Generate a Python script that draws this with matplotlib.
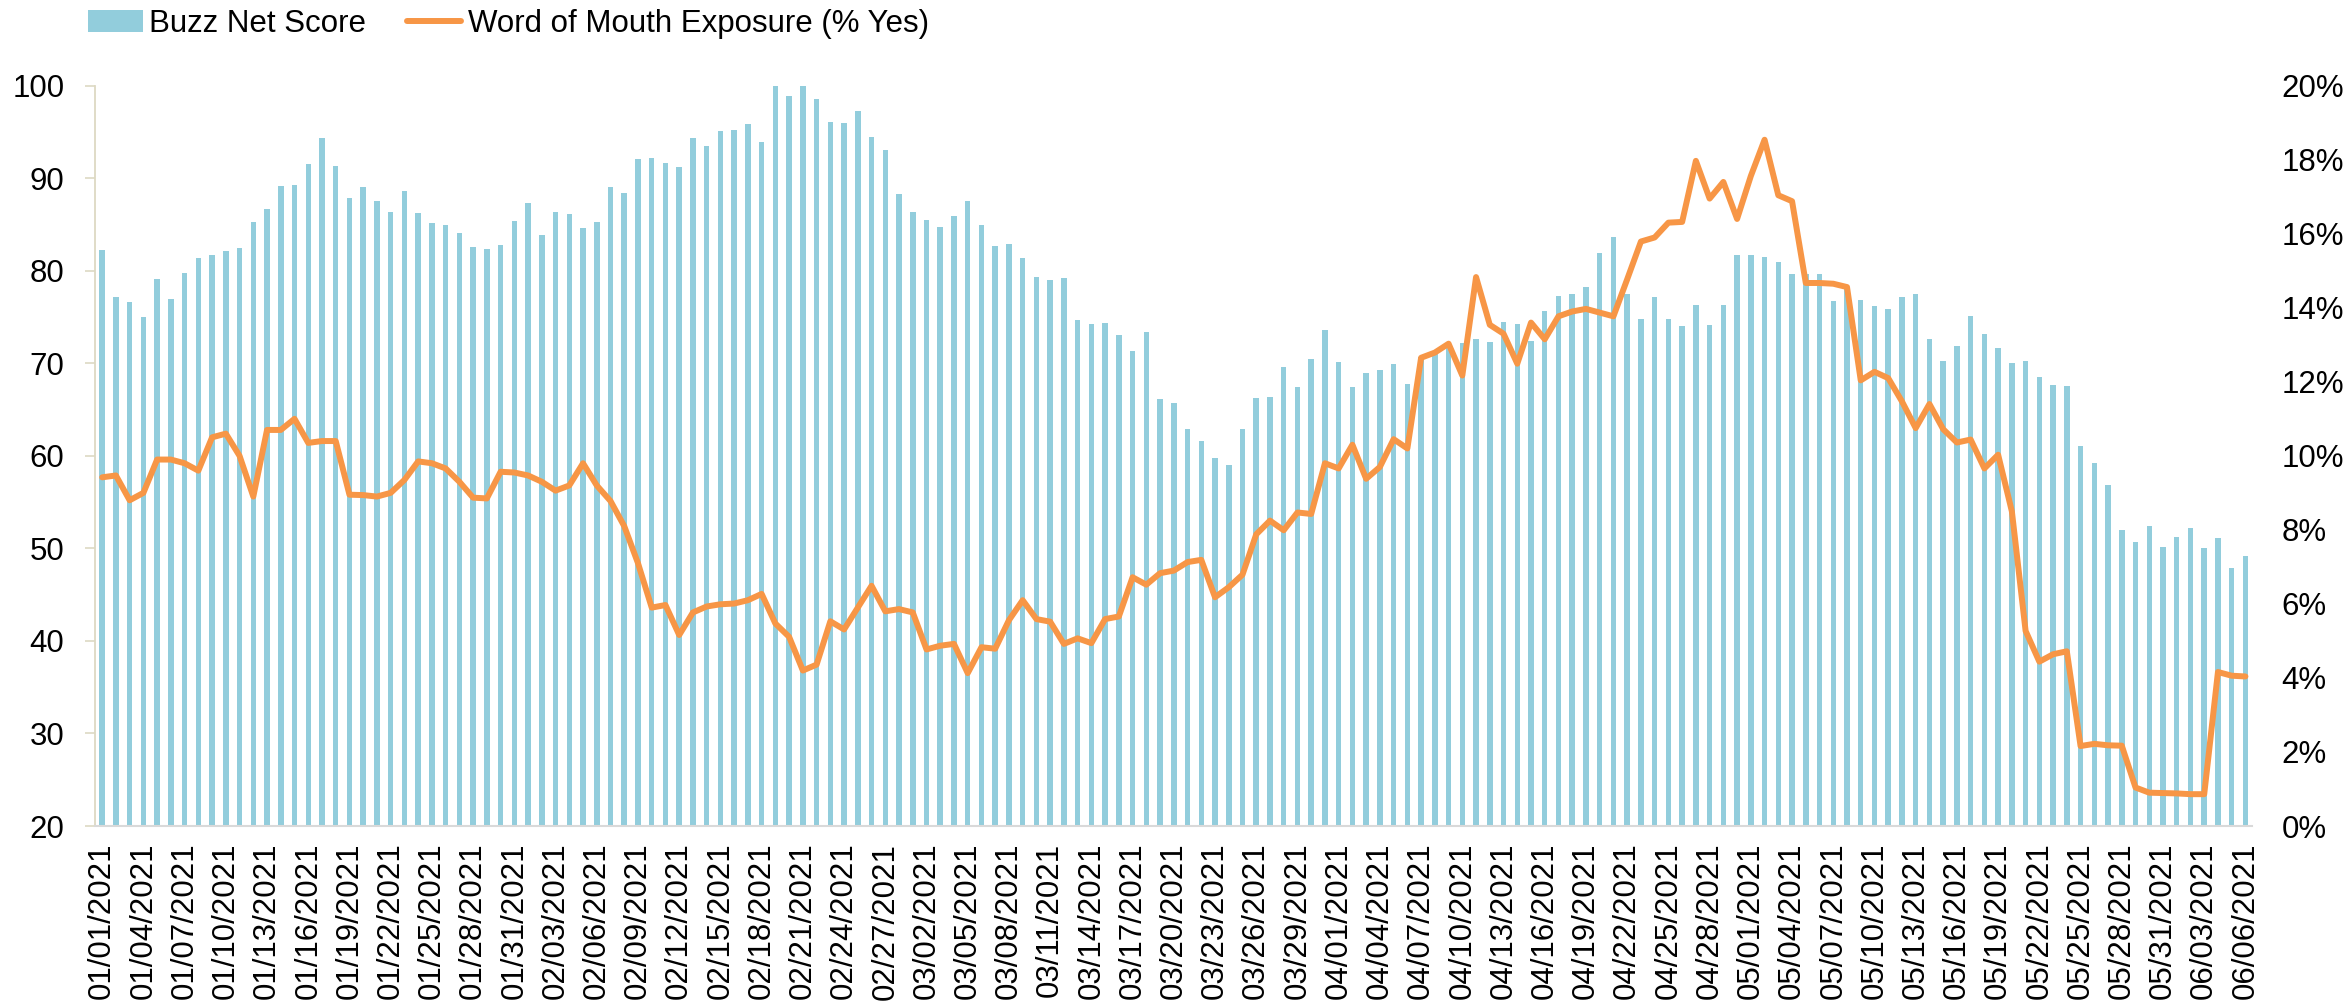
import numpy as np
import pandas as pd
import matplotlib
matplotlib.use("Agg")
import matplotlib.pyplot as plt
from matplotlib.ticker import FuncFormatter

plt.rcParams['font.family'] = ['Liberation Sans', 'DejaVu Sans']

dates = pd.date_range('2021-01-01', '2021-06-06', freq='D')
date_labels = [d.strftime('%m/%d/%Y') for d in dates]

buzz_net_score = [
    82.2, 77.2, 76.6, 75.0, 79.1, 77.0, 79.8, 81.4, 81.7, 82.1,
    82.5, 85.3, 86.7, 89.2, 89.3, 91.5, 94.3, 91.3, 87.9, 89.0,
    87.5, 86.4, 88.6, 86.2, 85.2, 85.0, 84.1, 82.6, 82.3, 82.8,
    85.4, 87.3, 83.9, 86.3, 86.1, 84.6, 85.3, 89.0, 88.4, 92.1,
    92.2, 91.7, 91.2, 94.4, 93.45, 95.1, 95.2, 95.85, 93.9, 100.0,
    98.9, 100.0, 98.6, 96.1, 96.0, 97.3, 94.5, 93.1, 88.3, 86.4,
    85.5, 84.7, 85.9, 87.5, 84.9, 82.65, 82.9, 81.4, 79.3, 79.0,
    79.2, 74.7, 74.3, 74.4, 73.1, 71.3, 73.4, 66.1, 65.7, 62.9,
    61.6, 59.8, 59.05, 62.9, 66.25, 66.35, 69.6, 67.45, 70.5, 73.6,
    70.1, 67.4, 69.0, 69.25, 69.9, 67.8, 70.7, 71.0, 72.1, 72.2,
    72.6, 72.3, 74.5, 74.3, 72.45, 75.6, 77.3, 77.5, 78.2, 81.9,
    83.6, 77.5, 74.8, 77.2, 74.8, 74.0, 76.3, 74.1, 76.3, 81.7,
    81.7, 81.5, 81.0, 79.65, 79.65, 79.65, 76.7, 78.0, 76.8, 76.2,
    75.9, 77.2, 77.5, 72.6, 70.2, 71.9, 75.1, 73.2, 71.65, 70.06,
    70.2, 68.54, 67.7, 67.6, 61.1, 59.26, 56.9, 52.0, 50.65, 52.45,
    50.2, 51.2, 52.2, 50.0, 51.15, 47.9, 49.2,
]

word_of_mouth_pct = [
    9.42, 9.47, 8.8, 9.0, 9.9, 9.9, 9.8, 9.6, 10.5, 10.6,
    10.0, 8.9, 10.7, 10.7, 11.0, 10.35, 10.4, 10.4, 8.95, 8.94,
    8.9, 9.0, 9.35, 9.85, 9.8, 9.66, 9.3, 8.87, 8.85, 9.57,
    9.55, 9.47, 9.3, 9.06, 9.2, 9.8, 9.2, 8.78, 8.1, 7.1,
    5.9, 5.97, 5.16, 5.77, 5.93, 5.99, 6.01, 6.1, 6.27, 5.47,
    5.11, 4.2, 4.36, 5.53, 5.31, 5.9, 6.49, 5.8, 5.86, 5.77,
    4.77, 4.87, 4.92, 4.13, 4.83, 4.79, 5.56, 6.1, 5.59, 5.52,
    4.92, 5.07, 4.94, 5.59, 5.66, 6.72, 6.52, 6.83, 6.9, 7.13,
    7.19, 6.18, 6.45, 6.79, 7.88, 8.25, 7.99, 8.47, 8.43, 9.8,
    9.66, 10.3, 9.38, 9.7, 10.45, 10.2, 12.65, 12.79, 13.03, 12.17,
    14.83, 13.54, 13.3, 12.49, 13.6, 13.15, 13.77, 13.9, 13.97, 13.87,
    13.77, 14.77, 15.79, 15.9, 16.3, 16.32, 17.97, 16.95, 17.4, 16.4,
    17.56, 18.54, 17.04, 16.88, 14.67, 14.67, 14.65, 14.56, 12.04, 12.27,
    12.1, 11.47, 10.75, 11.4, 10.72, 10.36, 10.44, 9.66, 10.03, 8.5,
    5.27, 4.44, 4.64, 4.72, 2.16, 2.22, 2.18, 2.17, 1.04, 0.9,
    0.89, 0.88, 0.86, 0.86, 4.16, 4.06, 4.04,
]

left_ticks = [20, 30, 40, 50, 60, 70, 80, 90, 100]
right_ticks = [0, 2, 4, 6, 8, 10, 12, 14, 16, 18, 20]

BAR_COLOR = '#92CDDC'
LINE_COLOR = '#F79646'
SPINE_TAN = '#DDD9C3'
FS = 22.5

fig = plt.figure(figsize=(23.52, 10.08), dpi=100)
ax = fig.add_axes([95.3 / 2352, 182 / 1008, 2157 / 2352, (826 - 85.7) / 1008])

x = np.arange(len(buzz_net_score))
bars = ax.bar(x, buzz_net_score, width=0.4, color=BAR_COLOR, label='Buzz Net Score', zorder=2)
ax.set_ylim(20, 100)
ax.set_xlim(-0.5, len(x) - 0.5)
ax.set_yticks(left_ticks)
ax.set_yticklabels([str(t) for t in left_ticks])

ax.set_xticks(x[::3])
ax.set_xticklabels(date_labels[::3], rotation=90, va='top', ha='center')

for s in ['top', 'right']:
    ax.spines[s].set_visible(False)
ax.spines['left'].set_color(SPINE_TAN)
ax.spines['left'].set_linewidth(1.3)
ax.spines['bottom'].set_color('#D9D9D9')
ax.spines['bottom'].set_linewidth(1.5)

ax.tick_params(axis='y', which='both', length=7.2, width=1.2, color=SPINE_TAN,
               labelsize=FS, pad=15, labelcolor='black')
ax.tick_params(axis='x', which='both', length=0, labelsize=FS, pad=12)

ax2 = ax.twinx()
line, = ax2.plot(x, np.array(word_of_mouth_pct) / 100.0, color=LINE_COLOR, lw=4.3,
                 solid_joinstyle='round', solid_capstyle='round',
                 label='Word of Mouth Exposure (% Yes)')
ax2.set_ylim(0, 0.20)
ax2.set_yticks([t / 100 for t in right_ticks])
ax2.yaxis.set_major_formatter(FuncFormatter(lambda v, p: f"{int(round(v * 100))}%"))
for s in ax2.spines.values():
    s.set_visible(False)
ax2.tick_params(axis='y', length=0, labelsize=FS, pad=21)
ax2.set_xlim(-0.5, len(x) - 0.5)

fig.legend([bars, line], ['Buzz Net Score', 'Word of Mouth Exposure (% Yes)'],
           loc='center left', bbox_to_anchor=(88 / 2352, 1 - 24 / 1008),
           ncol=2, frameon=False, fontsize=FS, handlelength=1.75,
           handletextpad=0.2, columnspacing=1.3, borderpad=0, borderaxespad=0)

fig.savefig('out.png', dpi=100)
